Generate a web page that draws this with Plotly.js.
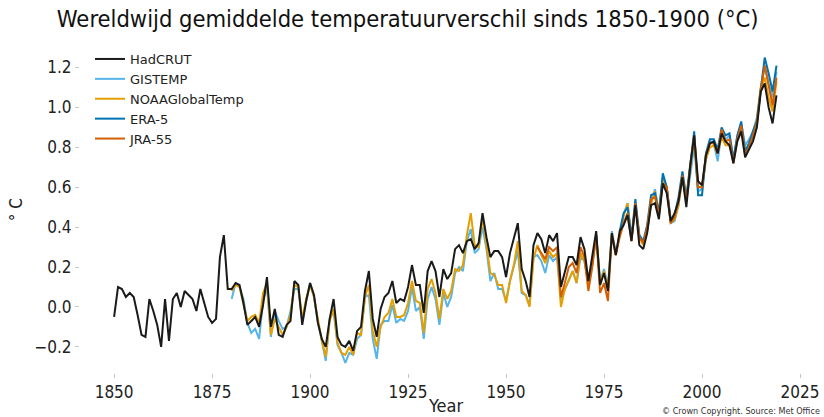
<!DOCTYPE html>
<html>
<head>
<meta charset="utf-8">
<script src="https://cdn.plot.ly/plotly-3.0.1.min.js"></script>
<style>
  html, body { margin: 0; padding: 0; background: #fff; }
  #chart { width: 824px; height: 417px; }
</style>
</head>
<body>
<div id="chart"></div>
<script>
// ---- Data (°C difference relative to 1850-1900) ----
const hadcrutStart = 1850;
const hadcrut = [
  -0.05, 0.10, 0.09, 0.05, 0.07, 0.05, -0.04, -0.14, -0.15, 0.04,
  -0.02, -0.09, -0.20, 0.04, -0.17, 0.04, 0.07, 0.00, 0.08, 0.06,
  0.04, -0.02, 0.09, 0.02, -0.05, -0.08, -0.06, 0.25, 0.36, 0.09,
  0.09, 0.12, 0.11, 0.02, -0.09, -0.07, -0.05, -0.10, 0.01, 0.15,
  -0.10, -0.01, -0.14, -0.15, -0.09, -0.07, 0.13, 0.11, -0.09, 0.03,
  0.12, 0.06, -0.08, -0.16, -0.20, -0.06, 0.04, -0.15, -0.19, -0.20,
  -0.17, -0.22, -0.12, -0.10, 0.08, 0.18, -0.06, -0.15, -0.01, 0.05,
  0.07, 0.13, 0.02, 0.04, 0.03, 0.10, 0.21, 0.11, 0.11, -0.03,
  0.18, 0.23, 0.18, 0.05, 0.19, 0.14, 0.17, 0.29, 0.31, 0.27,
  0.33, 0.34, 0.29, 0.32, 0.47, 0.35, 0.25, 0.28, 0.28, 0.25,
  0.15, 0.27, 0.35, 0.42, 0.19, 0.13, 0.05, 0.31, 0.37, 0.34,
  0.27, 0.36, 0.33, 0.37, 0.10, 0.18, 0.25, 0.25, 0.21, 0.35,
  0.29, 0.13, 0.26, 0.38, 0.11, 0.17, 0.08, 0.37, 0.26, 0.38,
  0.41, 0.46, 0.33, 0.51, 0.31, 0.29, 0.37, 0.51, 0.52, 0.44,
  0.62, 0.57, 0.43, 0.47, 0.53, 0.65, 0.50, 0.71, 0.86, 0.63,
  0.61, 0.76, 0.82, 0.83, 0.77, 0.87, 0.83, 0.81, 0.72, 0.83,
  0.88, 0.75, 0.79, 0.83, 0.90, 1.08, 1.12, 1.00, 0.92, 1.06
];

const gistempStart = 1880;
const gistemp = [
  0.04, 0.12, 0.10, 0.04, -0.08, -0.13, -0.11, -0.16, 0.03, 0.10,
  -0.15, -0.02, -0.07, -0.11, -0.10, -0.02, 0.09, 0.09, -0.07, 0.03,
  0.12, 0.05, -0.08, -0.17, -0.27, -0.06, -0.02, -0.19, -0.23, -0.28,
  -0.23, -0.24, -0.16, -0.14, 0.05, 0.06, -0.16, -0.26, -0.09, -0.07,
  -0.07, 0.01, -0.08, -0.06, -0.07, -0.02, 0.10, -0.02, 0.00, -0.16,
  0.04, 0.10, 0.04, -0.09, 0.07, 0.00, 0.05, 0.17, 0.20, 0.18,
  0.33, 0.39, 0.27, 0.29, 0.40, 0.29, 0.13, 0.17, 0.09, 0.09,
  0.03, 0.13, 0.21, 0.28, 0.07, 0.06, 0.01, 0.25, 0.26, 0.23,
  0.17, 0.26, 0.23, 0.25, 0.04, 0.09, 0.14, 0.18, 0.12, 0.25,
  0.23, 0.12, 0.21, 0.36, 0.13, 0.19, 0.10, 0.38, 0.27, 0.36,
  0.46, 0.52, 0.34, 0.51, 0.36, 0.32, 0.38, 0.52, 0.59, 0.47,
  0.65, 0.60, 0.42, 0.43, 0.51, 0.65, 0.53, 0.66, 0.81, 0.58,
  0.59, 0.74, 0.83, 0.82, 0.73, 0.88, 0.84, 0.86, 0.74, 0.85,
  0.92, 0.81, 0.84, 0.88, 0.95, 1.10, 1.21, 1.12, 1.05, 1.18
];

const noaaStart = 1880;
const noaa = [
  0.08, 0.11, 0.10, 0.02, -0.07, -0.05, -0.04, -0.08, 0.07, 0.12,
  -0.14, -0.06, -0.10, -0.14, -0.10, -0.04, 0.11, 0.10, -0.06, 0.04,
  0.11, 0.05, -0.06, -0.17, -0.25, -0.07, -0.01, -0.18, -0.23, -0.24,
  -0.20, -0.24, -0.13, -0.14, 0.05, 0.11, -0.12, -0.20, -0.10, -0.05,
  -0.03, 0.04, -0.05, -0.05, -0.04, 0.02, 0.13, 0.03, 0.02, -0.13,
  0.09, 0.14, 0.07, -0.06, 0.09, 0.04, 0.08, 0.19, 0.18, 0.21,
  0.36, 0.47, 0.31, 0.30, 0.45, 0.32, 0.17, 0.16, 0.11, 0.11,
  0.02, 0.13, 0.21, 0.33, 0.08, 0.06, 0.00, 0.24, 0.31, 0.26,
  0.22, 0.28, 0.25, 0.27, 0.00, 0.09, 0.14, 0.18, 0.12, 0.27,
  0.23, 0.11, 0.21, 0.36, 0.12, 0.18, 0.09, 0.37, 0.26, 0.36,
  0.46, 0.52, 0.34, 0.51, 0.35, 0.31, 0.38, 0.52, 0.58, 0.47,
  0.65, 0.60, 0.42, 0.44, 0.51, 0.65, 0.54, 0.72, 0.83, 0.60,
  0.60, 0.74, 0.80, 0.81, 0.77, 0.85, 0.81, 0.81, 0.74, 0.84,
  0.90, 0.78, 0.82, 0.87, 0.94, 1.10, 1.15, 1.05, 0.98, 1.13
];

const era5Start = 1979;
const era5 = [
  0.38, 0.47, 0.50, 0.35, 0.54, 0.36, 0.33, 0.41, 0.56, 0.57,
  0.47, 0.67, 0.60, 0.44, 0.46, 0.55, 0.68, 0.55, 0.71, 0.88,
  0.56, 0.56, 0.77, 0.84, 0.84, 0.79, 0.90, 0.86, 0.87, 0.74,
  0.86, 0.93, 0.78, 0.82, 0.88, 0.93, 1.09, 1.25, 1.17, 1.08,
  1.21
];

const jra55Start = 1958;
const jra55 = [
  0.30, 0.27, 0.24, 0.30, 0.28, 0.30, 0.05, 0.12, 0.20, 0.22,
  0.17, 0.30, 0.25, 0.08, 0.20, 0.36, 0.07, 0.12, 0.03, 0.36,
  0.26, 0.35, 0.42, 0.47, 0.33, 0.52, 0.35, 0.32, 0.40, 0.54,
  0.55, 0.46, 0.62, 0.60, 0.42, 0.45, 0.53, 0.66, 0.53, 0.70,
  0.86, 0.60, 0.60, 0.76, 0.82, 0.82, 0.77, 0.89, 0.83, 0.84,
  0.72, 0.84, 0.91, 0.76, 0.80, 0.86, 0.92, 1.09, 1.21, 1.11,
  1.01, 1.15
];

const xTicks = [1850, 1875, 1900, 1925, 1950, 1975, 2000, 2025];
const yTicks = [-0.2, 0.0, 0.2, 0.4, 0.6, 0.8, 1.0, 1.2];

function yearsFor(start, arr) {
  const out = [];
  for (let i = 0; i < arr.length; i++) out.push(start + i);
  return out;
}

const FONT = "DejaVu Sans Condensed, Liberation Sans Narrow, DejaVu Sans, sans-serif";
const FONT_REG = "DejaVu Sans, sans-serif";

function series(name, start, values, color, rank) {
  return {
    type: 'scatter', mode: 'lines', name: name,
    x: yearsFor(start, values), y: values,
    line: { color: color, width: 2 },
    legendrank: rank,
    hoverinfo: 'x+y+name'
  };
}

const traces = [
  series('GISTEMP', gistempStart, gistemp, '#56B4E9', 2),
  series('NOAAGlobalTemp', noaaStart, noaa, '#E69F00', 3),
  series('ERA-5', era5Start, era5, '#0072B2', 4),
  series('JRA-55', jra55Start, jra55, '#D55E00', 5),
  series('HadCRUT', hadcrutStart, hadcrut, '#1a1a1a', 1)
];

const layout = {
  width: 824, height: 417,
  margin: { l: 80, r: 14, t: 44, b: 44, pad: 0 },
  paper_bgcolor: '#ffffff', plot_bgcolor: '#ffffff',
  font: { family: FONT, color: '#222' },
  title: {
    text: 'Wereldwijd gemiddelde temperatuurverschil sinds 1850-1900 (°C)',
    font: { family: FONT, size: 23.5, color: '#111' },
    xref: 'container', yref: 'container',
    x: 0.069, xanchor: 'left', y: 0.954, yanchor: 'middle'
  },
  xaxis: {
    range: [1841.3, 2027.55],
    tickvals: xTicks, ticktext: xTicks.map(String),
    ticks: 'outside', ticklen: 4, tickwidth: 1, tickcolor: '#c8c8c8',
    showgrid: false, zeroline: false, showline: false,
    tickfont: { family: FONT, size: 17, color: '#222' }
  },
  yaxis: {
    range: [-0.331, 1.318],
    tickvals: yTicks, tickformat: '.1f',
    ticks: 'outside', ticklen: 4, tickwidth: 1, tickcolor: '#c8c8c8',
    showgrid: false, zeroline: false, showline: false,
    tickfont: { family: FONT, size: 17, color: '#222' }
  },
  showlegend: true,
  legend: {
    x: 0.0137, xanchor: 'left', y: 1.0, yanchor: 'top',
    bgcolor: 'rgba(0,0,0,0)', borderwidth: 0,
    font: { family: FONT_REG, size: 13, color: '#222' },
    traceorder: 'normal'
  },
  annotations: [
    { text: '° C', xref: 'paper', yref: 'paper', x: -0.0877, y: 0.498,
      xanchor: 'center', yanchor: 'middle', textangle: -90, showarrow: false,
      font: { family: FONT, size: 17, color: '#222' } },
    { text: 'Year', xref: 'paper', yref: 'paper', x: 0.5, y: -0.1003,
      xanchor: 'center', yanchor: 'middle', showarrow: false,
      font: { family: FONT, size: 18, color: '#222' } },
    { text: '© Crown Copyright. Source: Met Office', xref: 'paper', yref: 'paper',
      x: 1.0164, y: -0.1155, xanchor: 'right', yanchor: 'middle', showarrow: false,
      font: { family: FONT, size: 9, color: '#333' } }
  ]
};

Plotly.newPlot('chart', traces, layout, { displayModeBar: false, staticPlot: true });
</script>
</body>
</html>
